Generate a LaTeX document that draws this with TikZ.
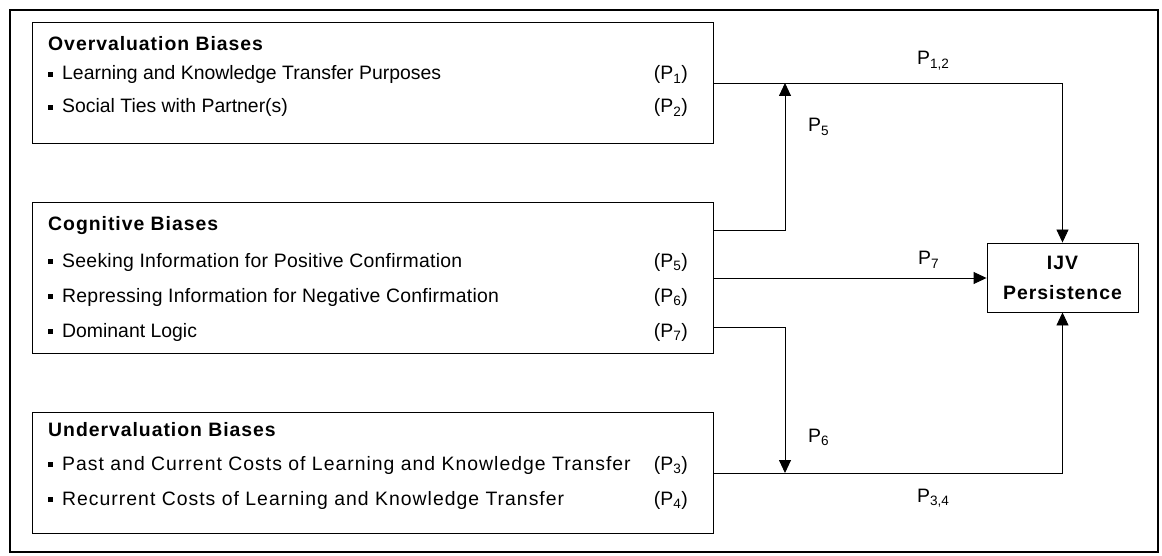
\documentclass[tikz,border=0pt]{standalone}
\usepackage{fontspec}
\setmainfont{Liberation Sans}
\usetikzlibrary{arrows.meta}

\newcommand{\blt}{\rule[3pt]{5pt}{5pt}\hspace{9pt}}

\tikzset{
    biasbox/.style={draw, line width=0.9pt, minimum width=681pt, anchor=north west, inner sep=0pt},
    txt/.style={inner sep=0pt, font=\fontsize{19.4}{23}\selectfont},
    head/.style={txt, anchor=base west, font=\bfseries\fontsize{19.4}{23}\selectfont\addfontfeature{LetterSpace=5}},
    item/.style={txt, anchor=base west},
    spaced/.style={font=\fontsize{19.4}{23}\selectfont\addfontfeature{LetterSpace=#1}},
    prop/.style={txt, anchor=base east},
    plabel/.style={txt, anchor=base west},
    link/.style={line width=0.9pt, -{Triangle[length=13pt,width=12pt]}}
}

\begin{document}
\begin{tikzpicture}[x=1pt, y=-1pt]
    \useasboundingbox (0,0) rectangle (1162,556);
    \draw[line width=1.3pt] (10,10) rectangle (1158,552);

    \node[biasbox, minimum height=121pt] (over) at (32,22) {};
    \node[head] (overh) at (48,51) {Overvaluation Biases};
    \node[item] (over1) at (48,80) {\blt Learning and Knowledge Transfer Purposes};
    \node[item] (over2) at (48,113) {\blt Social Ties with Partner(s)};
    \node[prop] (p1) at (688,80) {(P\textsubscript{1})};
    \node[prop] (p2) at (688,113) {(P\textsubscript{2})};

    \node[biasbox, minimum height=151pt] (cog) at (32,202) {};
    \node[head] (cogh) at (48,231) {Cognitive Biases};
    \node[item, spaced=1.4] (cog1) at (48,267) {\blt Seeking Information for Positive Confirmation};
    \node[item, spaced=1.3] (cog2) at (48,302) {\blt Repressing Information for Negative Confirmation};
    \node[item] (cog3) at (48,337) {\blt Dominant Logic};
    \node[prop] (p5) at (688,267) {(P\textsubscript{5})};
    \node[prop] (p6) at (688,302) {(P\textsubscript{6})};
    \node[prop] (p7) at (688,337) {(P\textsubscript{7})};

    \node[biasbox, minimum height=121pt] (under) at (32,412) {};
    \node[head] (underh) at (48,436) {Undervaluation Biases};
    \node[item, spaced=5.2] (under1) at (48,470) {\blt Past and Current Costs of Learning and Knowledge Transfer};
    \node[item, spaced=5.2] (under2) at (48,505) {\blt Recurrent Costs of Learning and Knowledge Transfer};
    \node[prop] (p3) at (688,470) {(P\textsubscript{3})};
    \node[prop] (p4) at (688,505) {(P\textsubscript{4})};

    \node[draw, line width=0.9pt, minimum width=151pt, minimum height=69pt, align=center,
        font=\bfseries\fontsize{19.4}{30}\selectfont\addfontfeature{LetterSpace=5}] (ijv) at (1062.5,277.5) {IJV\\Persistence};

    \coordinate (o1) at (713,83);
    \coordinate (c1) at (713,230);
    \coordinate (c2) at (713,278);
    \coordinate (c3) at (713,327);
    \coordinate (u1) at (713,473);
    \coordinate (m5) at (785,83);
    \coordinate (m6) at (785,473);

    \draw[link] (o1) -| (ijv.north);
    \draw[link] (c1) -| (m5);
    \draw[link] (c2) -- (c2 -| ijv.west);
    \draw[link] (c3) -| (m6);
    \draw[link] (u1) -| (ijv.south);

    \node[plabel] (l12) at (917,65) {P\textsubscript{1,2}};
    \node[plabel] (l5) at (808,132) {P\textsubscript{5}};
    \node[plabel] (l7) at (918,265) {P\textsubscript{7}};
    \node[plabel] (l6) at (808,442) {P\textsubscript{6}};
    \node[plabel] (l34) at (917,502) {P\textsubscript{3,4}};
\end{tikzpicture}
\end{document}
